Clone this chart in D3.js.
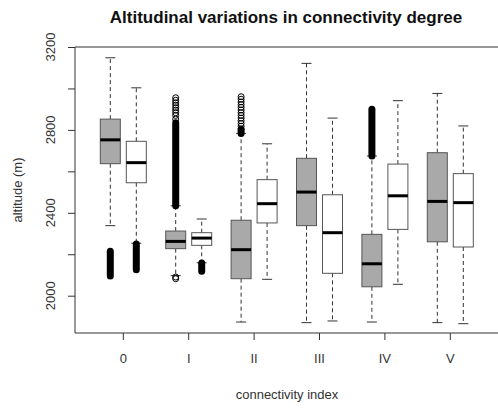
<!DOCTYPE html>
<meta charset="utf-8" />
<script src="https://d3js.org/d3.v7.min.js"></script>
<style>
  body { margin: 0; background: #fff; }
  text { font-family: "Liberation Sans", Arial, Helvetica, sans-serif; }
</style>
<div id="my_dataviz"></div>
<script>
  // connectivity classes and the two series per class
  var groups = ["0", "I", "II", "III", "IV", "V"];
  var series = ["grey", "white"];

  // five-number summaries: [lower whisker, Q1, median, Q3, upper whisker]
  var greyStats = [
    [2338, 2637, 2752, 2852, 3148],
    [2097, 2227, 2262, 2312, 2434],
    [1873, 2082, 2222, 2364, 2783],
    [1870, 2338, 2500, 2663, 3121],
    [1873, 2043, 2154, 2296, 2674],
    [1870, 2260, 2455, 2690, 2976]
  ];
  var whiteStats = [
    [2253, 2545, 2642, 2745, 3003],
    [2159, 2243, 2278, 2304, 2370],
    [2079, 2351, 2444, 2560, 2733],
    [1878, 2108, 2304, 2487, 2857],
    [2055, 2320, 2482, 2635, 2941],
    [1865, 2235, 2449, 2589, 2819]
  ];

  // dense outlier runs (so many points they merge into a solid bar): [low, high]
  var greyOutlierRuns = [[2095, 2215], [2434, 2835], [2783, 2800], null, [2674, 2900], null];
  var whiteOutlierRuns = [[2125, 2250], [2118, 2158], null, null, null, null];

  // separate outliers still visible as single circles
  var greyOutliers = [
    [],
    [2955, 2943, 2931, 2919, 2907, 2895, 2883, 2870, 2852, 2090, 2082],
    [2960, 2948, 2935, 2922, 2909, 2896, 2883, 2870, 2857, 2844, 2831, 2818, 2805],
    [], [], []
  ];
  var whiteOutliers = [[], [], [], [], [], []];

  var yTicks = [2000, 2200, 2400, 2600, 2800, 3000, 3200];
  var yLabels = [2000, 2400, 2800, 3200];

  var W = 498, H = 408;
  var svg = d3.select("#my_dataviz").append("svg")
    .attr("width", W).attr("height", H);

  var plotLeft = 75, plotTop = 47, plotBottom = 333, plotRight = 520;

  var x = d3.scaleBand().domain(groups).range([90.6, 483]).padding(0);
  var xs = d3.scalePoint().domain(series).range([-13, 13]);
  var y = d3.scaleLinear().domain([1820, 3200]).range([plotBottom, plotTop]);

  var boxW = 20, capW = 10;

  // title
  svg.append("text")
    .attr("x", 286).attr("y", 23)
    .attr("text-anchor", "middle")
    .style("font-size", "17px").style("font-weight", "bold")
    .attr("fill", "#111")
    .text("Altitudinal variations in connectivity degree");

  // rows for drawing
  var rows = [];
  groups.forEach(function (g, i) {
    rows.push({ g: g, s: "grey", st: greyStats[i], run: greyOutlierRuns[i], out: greyOutliers[i] });
    rows.push({ g: g, s: "white", st: whiteStats[i], run: whiteOutlierRuns[i], out: whiteOutliers[i] });
  });
  function cx(d) { return x(d.g) + x.bandwidth() / 2 + xs(d.s); }

  var box = svg.append("g").selectAll("g").data(rows).enter().append("g");

  // whiskers (dashed)
  box.append("line")
    .attr("x1", cx).attr("x2", cx)
    .attr("y1", function (d) { return y(d.st[3]); })
    .attr("y2", function (d) { return y(d.st[4]); })
    .attr("stroke", "#333").attr("stroke-dasharray", "4,3");
  box.append("line")
    .attr("x1", cx).attr("x2", cx)
    .attr("y1", function (d) { return y(d.st[1]); })
    .attr("y2", function (d) { return y(d.st[0]); })
    .attr("stroke", "#333").attr("stroke-dasharray", "4,3");

  // whisker caps
  [0, 4].forEach(function (k) {
    box.append("line")
      .attr("x1", function (d) { return cx(d) - capW / 2; })
      .attr("x2", function (d) { return cx(d) + capW / 2; })
      .attr("y1", function (d) { return y(d.st[k]); })
      .attr("y2", function (d) { return y(d.st[k]); })
      .attr("stroke", "#333");
  });

  // boxes
  box.append("rect")
    .attr("x", function (d) { return cx(d) - boxW / 2; })
    .attr("width", boxW)
    .attr("y", function (d) { return y(d.st[3]); })
    .attr("height", function (d) { return y(d.st[1]) - y(d.st[3]); })
    .attr("fill", function (d) { return d.s === "grey" ? "#a9a9a9" : "#fff"; })
    .attr("stroke", "#555");

  // medians
  box.append("line")
    .attr("x1", function (d) { return cx(d) - boxW / 2; })
    .attr("x2", function (d) { return cx(d) + boxW / 2; })
    .attr("y1", function (d) { return y(d.st[2]); })
    .attr("y2", function (d) { return y(d.st[2]); })
    .attr("stroke", "#000").attr("stroke-width", 3);

  // dense outlier runs
  box.filter(function (d) { return d.run; }).append("line")
    .attr("x1", cx).attr("x2", cx)
    .attr("y1", function (d) { return y(d.run[0]); })
    .attr("y2", function (d) { return y(d.run[1]); })
    .attr("stroke", "#000").attr("stroke-width", 7).attr("stroke-linecap", "round");

  // single outliers
  box.selectAll("circle")
    .data(function (d) { return d.out.map(function (v) { return { d: d, v: v }; }); })
    .enter().append("circle")
    .attr("cx", function (o) { return cx(o.d); })
    .attr("cy", function (o) { return y(o.v); })
    .attr("r", 3)
    .attr("fill", "none").attr("stroke", "#000").attr("stroke-width", 1);

  // frame: top, left, bottom
  svg.append("path")
    .attr("d", "M" + plotRight + "," + plotTop + "H" + plotLeft + "V" + plotBottom + "H" + plotRight)
    .attr("fill", "none").attr("stroke", "#333");

  // y axis
  var yAxis = svg.append("g").attr("transform", "translate(" + plotLeft + ",0)")
    .call(d3.axisLeft(y).tickValues(yTicks).tickSize(7).tickFormat(""));
  yAxis.select(".domain").remove();
  yAxis.selectAll("line").attr("stroke", "#333");
  svg.append("g").selectAll("text").data(yLabels).enter().append("text")
    .attr("transform", function (d) { return "translate(55," + y(d) + ") rotate(-90)"; })
    .attr("text-anchor", "middle")
    .style("font-size", "13px").attr("fill", "#333")
    .text(function (d) { return d; });

  // x axis
  var xAxis = svg.append("g").attr("transform", "translate(0," + plotBottom + ")")
    .call(d3.axisBottom(x).tickSize(7).tickPadding(14));
  xAxis.select(".domain").remove();
  xAxis.selectAll("line").attr("stroke", "#333");
  xAxis.selectAll("text")
    .style("font-size", "13px").style("font-family", "'Liberation Sans', Arial, sans-serif")
    .attr("fill", "#333");

  // axis titles
  svg.append("text")
    .attr("x", 287).attr("y", 399)
    .attr("text-anchor", "middle")
    .style("font-size", "13px").attr("fill", "#333")
    .text("connectivity index");
  svg.append("text")
    .attr("transform", "translate(22,190) rotate(-90)")
    .attr("text-anchor", "middle")
    .style("font-size", "13px").attr("fill", "#333")
    .text("altitude (m)");
</script>
